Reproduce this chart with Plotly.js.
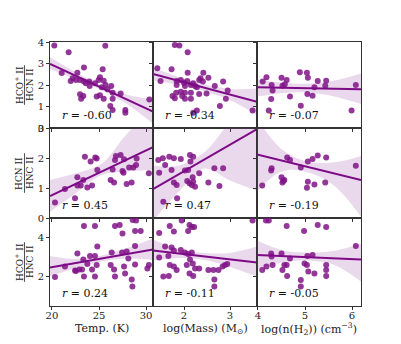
<!DOCTYPE html>
<html><head><meta charset="utf-8">
<script src="https://cdn.plot.ly/plotly-3.0.1.min.js"></script>
<style>html,body{margin:0;padding:0;background:#fff}#chart{width:401px;height:344px}</style>
</head><body><div id="chart"></div>
<script>
// ---------- data ----------
// Row 1: HCO+/HCN ; Row 2: HCN/HNC ; Row 3: HCO+/HNC
// Column 1: Temp (K) ; Column 2: log(Mass) ; Column 3: log(n(H2))
const r1c1_x = [20.25,21.77,25.67,21.03,23.4,25.39,22.7,21.99,22.2,22.55,22.98,23.4,23.97,24.57,24.96,25.1,25.5,25.7,25.9,26.3,25.3,26.45,27.3,22.98,23.33,23.1,24.75,25.1,25.5,26.45,26.2,26.45,27.8,27.8,30.35,24.0,23.6];
const r1c1_y = [3.84,3.52,3.83,2.56,2.81,2.73,2.57,2.19,2.31,2.23,2.23,2.16,2.16,2.08,2.23,2.36,2.2,2.0,1.8,1.95,1.89,1.64,1.61,1.57,1.49,1.36,1.46,1.52,1.36,1.36,1.02,0.84,0.84,0.71,1.33,1.95,2.08];
const r1c2_x = [1.42,1.49,1.73,1.80,1.90,2.08,2.08,1.84,1.93,2.0,2.07,2.2,2.24,2.28,2.33,2.36,2.42,2.41,2.53,2.67,2.85,2.95,1.84,2.02,2.15,1.83,1.93,2.02,2.15,1.75,1.80,1.96,2.02,2.15,2.33,2.49,2.91,2.78,2.2,2.28,3.49];
const r1c2_y = [2.78,2.19,2.73,3.86,3.84,3.52,2.57,2.19,2.23,2.11,2.19,2.08,1.95,1.89,2.23,2.31,2.57,2.16,2.34,1.95,2.16,1.74,2.0,1.95,2.0,1.64,1.69,1.64,1.64,1.49,1.38,1.49,1.36,1.36,1.58,1.61,1.36,1.02,0.71,0.81,0.81];
const r1c3_x = [4.1,4.18,4.29,4.31,4.28,4.23,4.50,4.52,4.61,4.57,4.68,4.89,4.91,5.04,5.06,5.05,5.16,5.2,5.27,5.43,5.45,5.99,6.08];
const r1c3_y = [2.16,2.36,2.0,1.74,1.35,0.81,2.34,1.97,2.23,2.03,1.46,2.59,1.04,2.57,2.34,1.58,1.5,1.89,2.19,1.97,2.2,0.81,2.0];

const r2c1_x = [20.32,21.38,22.45,22.7,22.7,23.05,23.33,23.5,23.76,24.11,24.26,24.6,24.75,24.82,26.24,26.6,26.45,26.7,26.8,27.3,27.5,27.6,27.66,27.94,28.2,28.47,28.65,28.94,29.0,30.3];
const r2c1_y = [0.52,0.97,0.66,1.36,1.08,1.08,1.27,2.04,1.02,1.88,1.08,2.02,1.98,1.6,1.27,1.18,1.62,1.93,2.07,2.1,1.57,1.51,1.96,1.13,1.68,1.18,1.68,1.77,1.98,1.49];
const r2c2_x = [1.44,1.46,1.54,1.59,1.68,1.73,1.78,1.78,1.84,1.85,1.93,1.55,2.02,2.09,2.13,2.2,2.14,2.07,2.12,2.19,2.2,2.17,2.24,2.33,2.53,2.66,2.77,2.85];
const r2c2_y = [1.93,1.51,1.99,1.77,2.04,1.6,1.99,1.18,1.1,0.66,1.97,0.54,1.58,1.6,2.1,2.04,1.88,1.23,1.16,1.36,1.21,1.1,1.04,1.49,1.18,1.66,1.07,1.66];
const r2c3_x = [4.09,4.28,4.29,4.50,4.54,4.56,4.52,4.62,4.68,4.91,5.04,5.06,5.06,5.16,5.2,5.27,5.43,5.45,6.08];
const r2c3_y = [1.08,1.58,1.66,1.36,1.23,1.27,1.18,2.02,1.93,1.68,1.01,1.21,1.88,1.97,1.12,2.08,1.18,2.02,1.74];

const r3c1_x = [20.32,21.38,22.45,22.55,22.7,22.9,23.2,23.33,23.4,23.76,24.04,24.26,24.57,24.57,24.75,24.82,26.24,26.35,26.6,26.7,27.45,27.66,27.77,27.94,28.12,28.48,28.55,28.83,28.83,30.14,30.3,23.4,24.57,26.7,27.2,27.5,28.58,28.94,28.83,29.43];
const r3c1_y = [2.0,2.52,2.32,2.3,3.18,2.38,2.38,2.88,2.02,2.65,3.05,2.38,2.02,3.05,2.6,3.52,2.6,3.22,2.38,2.02,3.22,2.52,2.18,3.28,2.93,1.88,1.52,3.55,2.63,2.43,2.6,4.55,4.55,4.55,4.6,4.18,4.85,4.82,4.3,4.3];
const r3c2_x = [1.46,1.59,1.66,1.73,1.78,1.55,1.67,1.69,1.78,1.84,1.93,2.02,2.06,2.09,2.12,2.13,2.17,2.19,2.2,2.24,2.33,2.53,2.64,2.66,2.66,2.75,2.84,2.89,2.94,1.46,1.69,1.78,1.95,2.12,2.17,2.22,3.49,2.09];
const r3c2_y = [2.98,3.52,3.05,3.48,3.32,2.02,2.05,2.6,2.52,2.35,3.35,3.22,2.6,3.15,2.18,2.88,3.22,2.68,2.05,2.43,2.43,2.35,2.35,1.88,1.52,2.35,2.52,2.6,2.65,4.2,4.55,4.27,4.82,4.6,4.5,4.5,4.82,4.3];
const r3c3_x = [4.09,4.18,4.28,4.29,4.31,4.5,4.52,4.56,4.61,4.62,4.68,4.91,4.91,4.99,5.04,5.05,5.07,5.16,5.2,5.45,5.45,5.45,6.08,4.17,4.23,4.61,4.98,5.27,5.45];
const r3c3_y = [2.35,2.52,3.18,3.02,2.6,3.18,2.35,2.6,2.6,2.05,2.93,1.85,1.52,2.68,2.6,3.05,2.27,3.1,2.18,2.6,2.35,2.05,3.55,4.82,4.82,4.55,4.3,4.6,4.5];

// regression lines (value at left and right edge of each column) and confidence bands
const lineX = [[19.79,30.74],[1.326,3.587],[3.979,6.19]];
const lineY = [[2.98,0.76],[2.51,1.22],[1.89,1.80],
               [0.73,2.36],[0.96,2.96],[2.12,1.27],
               [2.48,3.38],[3.32,2.72],[3.10,2.88]];
const bandX = [[19.79,22.5,25.3,28,30.74],[1.326,1.9,2.45,3.0,3.587],[3.979,4.5,5.0,5.6,6.19]];
const bandHi = [[3.29,2.6,1.97,1.55,1.33],[2.8,2.36,2.03,1.82,1.84],[2.26,2.12,2.06,2.2,2.54],
                [1.27,1.49,1.82,2.82,3.6],[1.75,1.75,2.2,3.2,4.0],[3.3,2.3,1.9,1.85,2.07],
                [3.05,2.9,3.08,3.45,3.93],[3.88,3.38,3.2,3.2,3.52],[3.82,3.35,3.22,3.3,3.68]];
const bandLo = [[2.75,2.27,1.76,1.1,0.2],[2.22,2.0,1.71,1.3,0.6],[1.46,1.62,1.66,1.48,1.12],
                [0.21,0.82,1.43,1.55,1.6],[-0.1,0.9,1.65,1.25,0.91],[0.88,1.55,1.55,1.1,0.04],
                [2.02,2.45,2.78,2.92,2.85],[2.82,2.95,2.85,2.5,2.02],[2.38,2.72,2.82,2.62,1.77]];
const rLabels = ['-0.60','-0.34','-0.07','0.45','0.47','-0.19','0.24','-0.11','-0.05'];

const xTitles = ['Temp. (K)','log(Mass) (M<sub>⊙</sub>)','log(n(H<sub>2</sub>)) (cm<sup>−3</sup>)'];
const yNum = ['HCO<sup>+</sup> II','HCN II','HCO<sup>+</sup> II'];
const yDen = ['HCN II','HNC II','HNC II'];
const xTicks = [[20,25,30],[2,3],[4,5,6]];
const yTicks = [[0,1,2,3,4],[0,1,2,3],[2,4]];

// ---------- layout geometry ----------
const xRanges = [[19.79,30.74],[1.326,3.587],[3.979,6.19]];
const yRanges = [[0,4],[0,3],[0.55,4.95]];
const colDom = [[0,0.3312],[0.3312,0.6656],[0.6656,1]];
const rowDom = [[0.6742,1],[0.3333,0.6742],[0,0.3333]];

const panels = [[r1c1_x,r1c1_y],[r1c2_x,r1c2_y],[r1c3_x,r1c3_y],
                [r2c1_x,r2c1_y],[r2c2_x,r2c2_y],[r2c3_x,r2c3_y],
                [r3c1_x,r3c1_y],[r3c2_x,r3c2_y],[r3c3_x,r3c3_y]];

const PT = 'rgba(128,20,135,0.85)';
const LN = '#7d0a86';
const BAND = 'rgba(150,60,160,0.2)';
const FONT = 'DejaVu Serif';

const traces = [];
const layout = {
  width:401, height:344, showlegend:false,
  paper_bgcolor:'#fff', plot_bgcolor:'#fff',
  margin:{l:50,r:40,t:42,b:38},
  annotations:[], shapes:[]
};

for (let k=0;k<9;k++){
  const row = Math.floor(k/3), col = k%3;
  const s = k===0 ? '' : String(k+1);
  const xa = 'x'+s, ya = 'y'+s;
  traces.push({x:bandX[col], y:bandLo[k], xaxis:xa, yaxis:ya, mode:'lines', type:'scatter',
    line:{width:0, shape:'spline', color:BAND}, hoverinfo:'skip'});
  traces.push({x:bandX[col], y:bandHi[k], xaxis:xa, yaxis:ya, mode:'lines', type:'scatter',
    line:{width:0, shape:'spline', color:BAND}, fill:'tonexty', fillcolor:BAND, hoverinfo:'skip'});
  traces.push({x:panels[k][0], y:panels[k][1], xaxis:xa, yaxis:ya, mode:'markers', type:'scatter',
    marker:{size:6, color:PT}});
  traces.push({x:lineX[col], y:lineY[k], xaxis:xa, yaxis:ya, mode:'lines', type:'scatter',
    line:{width:2, color:LN}});
  const axCommon = {showline:true, mirror:true, linecolor:'#333', linewidth:1,
    ticks:'outside', ticklen:3, tickcolor:'#333', showgrid:false, zeroline:false,
    tickfont:{family:FONT, size:10, color:'#222'}, fixedrange:true};
  layout['xaxis'+s] = Object.assign({}, axCommon, {domain:colDom[col], range:xRanges[col],
    anchor:ya, tickvals:xTicks[col], showticklabels: row===2, ticklabelstandoff:-3});
  layout['yaxis'+s] = Object.assign({}, axCommon, {domain:rowDom[row], range:yRanges[row],
    anchor:xa, tickvals:yTicks[row], showticklabels: col===0});
  layout.annotations.push({xref:xa+' domain', yref:ya+' domain', x:0.1, y:0.05,
    xanchor:'left', yanchor:'bottom', showarrow:false,
    text:'<i>r</i> = '+rLabels[k], font:{family:FONT, size:11, color:'#111'}});
}
// x axis titles
for (let c=0;c<3;c++){
  layout.annotations.push({xref:'paper', yref:'paper', x:(colDom[c][0]+colDom[c][1])/2, y:-0.086,
    xanchor:'center', yanchor:'middle', showarrow:false, text:xTitles[c],
    font:{family:FONT, size:11, color:'#222'}});
}
// y axis titles as stacked fractions
for (let r=0;r<3;r++){
  const yc = (rowDom[r][0]+rowDom[r][1])/2;
  layout.annotations.push({xref:'paper', yref:'paper', x:-0.1, y:yc, textangle:-90,
    xanchor:'center', yanchor:'middle', showarrow:false, text:yNum[r],
    font:{family:FONT, size:9, color:'#222'}});
  layout.annotations.push({xref:'paper', yref:'paper', x:-0.064, y:yc, textangle:-90,
    xanchor:'center', yanchor:'middle', showarrow:false, text:yDen[r],
    font:{family:FONT, size:9, color:'#222'}});
  layout.shapes.push({type:'line', xref:'paper', yref:'paper', x0:-0.082, x1:-0.082,
    y0:yc-0.075, y1:yc+0.075, line:{color:'#222', width:0.8}});
}

Plotly.newPlot('chart', traces, layout, {staticPlot:true, displayModeBar:false});
</script>
</body></html>
